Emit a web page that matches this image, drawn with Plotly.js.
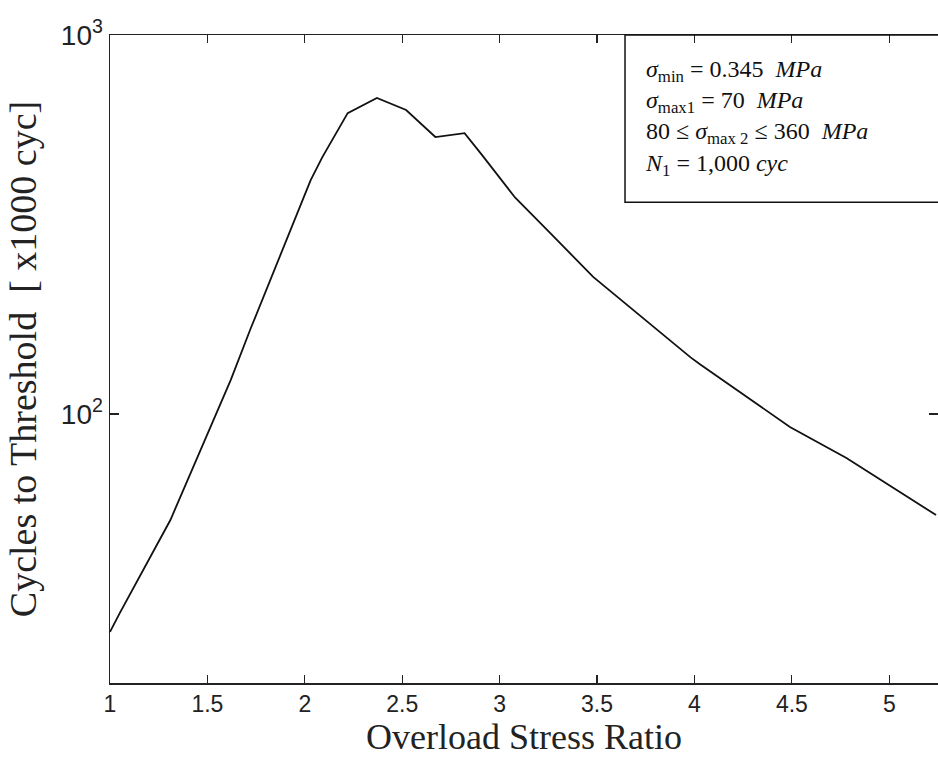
<!DOCTYPE html>
<html>
<head>
<meta charset="utf-8">
<script src="https://cdn.plot.ly/plotly-3.0.1.min.js"></script>
<style>html,body{margin:0;padding:0;background:#fff;}#chart{width:938px;height:758px;}</style>
</head>
<body>
<div id="chart"></div>
<script>
// Overload stress ratio (x) and cycles to threshold [x1000 cyc] (y)
const stressRatio = [1.00, 1.05, 1.31, 1.40, 1.62, 1.72, 1.99, 2.03, 2.09, 2.22, 2.37, 2.52, 2.67, 2.82, 2.91, 3.08, 3.26, 3.48, 3.98, 4.03, 4.49, 4.78, 5.24];
const cyclesToThreshold = [26.6, 29.8, 52.5, 67.3, 123, 167, 372, 414, 476, 622, 682, 634, 538, 551, 482, 372, 300, 230, 141, 135, 92.4, 76.5, 54.1];
const xTickVals = [1, 1.5, 2, 2.5, 3, 3.5, 4, 4.5, 5];
const xTickText = ['1', '1.5', '2', '2.5', '3', '3.5', '4', '4.5', '5'];
const yTickVals = [100, 1000];
const yTickText = ['10<sup>2</sup>', '10<sup>3</sup>'];
const infoLines = [
  '<i>σ</i><sub>min</sub> = 0.345  <i>MPa</i>',
  '<i>σ</i><sub>max1</sub> = 70  <i>MPa</i>',
  '80 ≤ <i>σ</i><sub>max 2</sub> ≤ 360  <i>MPa</i>',
  '<i>N</i><sub>1</sub> = 1,000 <i>cyc</i>'
];

const serif = 'Liberation Serif, Times New Roman, serif';
const sans = 'Liberation Sans, Arial, sans-serif';

const trace = {
  x: stressRatio,
  y: cyclesToThreshold,
  type: 'scatter',
  mode: 'lines',
  line: {color: '#111', width: 1.8},
  hoverinfo: 'x+y',
  showlegend: false
};

const annotations = [{
  text: infoLines.join('<br>'), xref: 'paper', yref: 'paper', x: 0.6437, y: 0.872,
  xanchor: 'left', yanchor: 'middle', showarrow: false, align: 'left',
  font: {family: serif, size: 24, color: '#111'}
}];

const layout = {
  width: 938, height: 758,
  margin: {l: 110, r: 0, t: 35, b: 75},
  paper_bgcolor: '#fff', plot_bgcolor: '#fff',
  showlegend: false,
  xaxis: {
    range: [1, 5.25],
    tickvals: xTickVals, ticktext: xTickText,
    ticks: 'inside', ticklen: 8, tickwidth: 1.2, tickcolor: '#222',
    showline: true, linecolor: '#222', linewidth: 1.5, mirror: 'ticks',
    showgrid: false, zeroline: false,
    tickfont: {family: sans, size: 23, color: '#222'},
    title: {text: 'Overload Stress Ratio', font: {family: serif, size: 36, color: '#222'}, standoff: 4}
  },
  yaxis: {
    type: 'log',
    range: [1.29, 3],
    tickvals: yTickVals, ticktext: yTickText,
    ticks: 'inside', ticklen: 9, tickwidth: 1.2, tickcolor: '#222',
    showline: true, linecolor: '#222', linewidth: 1.5, mirror: 'ticks',
    showgrid: false, zeroline: false,
    tickfont: {family: sans, size: 28, color: '#222'},
    title: {text: 'Cycles to Threshold  [ x1000 cyc]', font: {family: serif, size: 38, color: '#222'}, standoff: 12}
  },
  shapes: [{
    type: 'rect', xref: 'paper', yref: 'paper',
    x0: 0.622, x1: 1.02, y0: 0.742, y1: 1,
    line: {color: '#111', width: 1.5}, fillcolor: 'rgba(0,0,0,0)'
  }],
  annotations: annotations
};

Plotly.newPlot('chart', [trace], layout, {displayModeBar: false, staticPlot: true});
</script>
</body>
</html>
